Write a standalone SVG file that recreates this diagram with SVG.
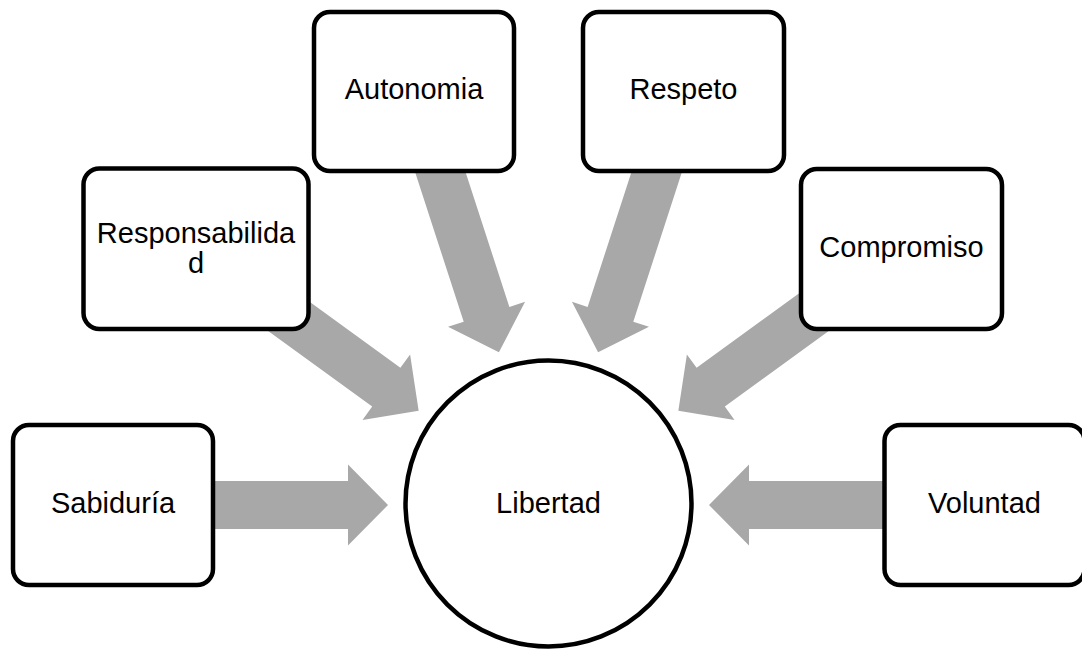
<svg xmlns="http://www.w3.org/2000/svg" width="1082" height="649" viewBox="0 0 1082 649">
<defs>
<style>
.box{fill:#fff;stroke:#000;stroke-width:4.5}
.arr{fill:#A8A8A8}
.lbl{font-family:"Liberation Sans",Arial,sans-serif;font-size:29px;fill:#000;text-anchor:middle}
</style>
<polygon id="arrow" points="160.5,0 200.5,-40.5 200.5,-24 360,-24 360,24 200.5,24 200.5,40.5"/>
</defs>
<rect width="1082" height="649" fill="#fff"/>
<g id="connectors" class="arr">
<use href="#arrow" transform="translate(548.5,505) rotate(180)"/>
<use href="#arrow" transform="translate(548.5,505) rotate(-144)"/>
<use href="#arrow" transform="translate(548.5,505) rotate(-108)"/>
<use href="#arrow" transform="translate(548.5,505) rotate(-72)"/>
<use href="#arrow" transform="translate(548.5,505) rotate(-36)"/>
<use href="#arrow" transform="translate(548.5,505)"/>
</g>
<g id="libertad">
<circle class="box" cx="548.5" cy="503.5" r="143"/>
<text class="lbl" x="548.5" y="513">Libertad</text>
</g>
<g id="sabiduria">
<rect class="box" x="13" y="425" width="200" height="160" rx="16"/>
<text class="lbl" x="113" y="513">Sabiduría</text>
</g>
<g id="responsabilidad">
<rect class="box" x="83.5" y="168.5" width="225" height="160.5" rx="16"/>
<text class="lbl" x="196" y="243">Responsabilida</text>
<text class="lbl" x="196" y="272.5">d</text>
</g>
<g id="autonomia">
<rect class="box" x="314" y="12" width="200" height="159" rx="16"/>
<text class="lbl" x="414" y="99">Autonomia</text>
</g>
<g id="respeto">
<rect class="box" x="583" y="12" width="201" height="159" rx="16"/>
<text class="lbl" x="683.5" y="99">Respeto</text>
</g>
<g id="compromiso">
<rect class="box" x="801" y="169" width="201" height="160" rx="16"/>
<text class="lbl" x="901.5" y="257">Compromiso</text>
</g>
<g id="voluntad">
<rect class="box" x="884.5" y="425" width="200" height="160" rx="16"/>
<text class="lbl" x="984.5" y="513">Voluntad</text>
</g>
</svg>
